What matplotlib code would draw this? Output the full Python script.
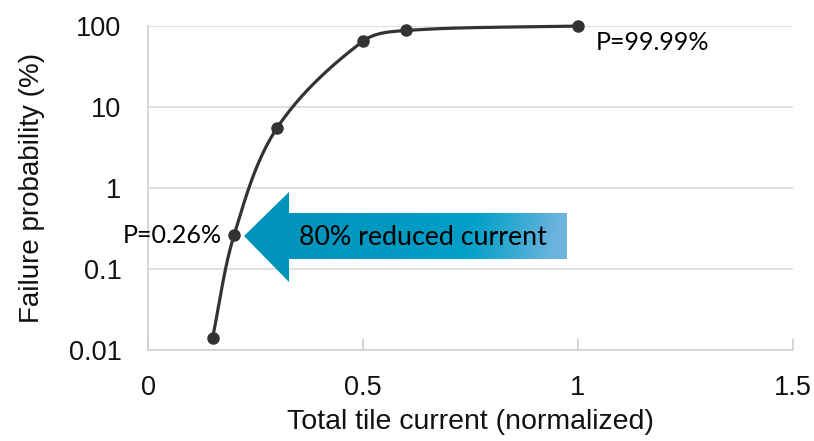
import matplotlib.pyplot as plt
import numpy as np
from matplotlib.patches import Polygon
from matplotlib.colors import LinearSegmentedColormap

# data
current = [0.15, 0.2, 0.3, 0.5, 0.6, 1.0]
fail_prob = [0.014, 0.26, 5.5, 65, 88, 99.99]
xticks = [0, 0.5, 1, 1.5]
yticks = [0.01, 0.1, 1, 10, 100]
ytick_labels = ['0.01', '0.1', '1', '10', '100']

tick_font = ['Liberation Sans', 'DejaVu Sans']
note_font = ['Lato', 'DejaVu Sans']


def smooth(x, y, n=40):
    # Excel-style smoothed line: bezier through the points in log-y pixel space
    sx, sy = 430.0, 81.0
    px = np.array(x, float) * sx
    py = np.log10(np.array(y, float)) * sy
    P = np.column_stack([px, py])
    k = len(P)
    D = np.zeros_like(P)
    for i in range(k):
        d = P[min(i + 1, k - 1)] - P[max(i - 1, 0)]
        D[i] = d / np.hypot(*d)
    out = []
    t = np.linspace(0, 1, n)[:, None]
    for i in range(k - 1):
        p1, p2 = P[i], P[i + 1]
        L = np.hypot(*(p2 - p1)) / 3
        a, b = D[i] * L, D[i + 1] * L
        dy = abs(p2[1] - p1[1])
        if abs(a[1]) > dy:
            a = a * dy / abs(a[1])
        if abs(b[1]) > dy:
            b = b * dy / abs(b[1])
        c1, c2 = p1 + a, p2 - b
        seg = (1 - t) ** 3 * p1 + 3 * (1 - t) ** 2 * t * c1 + 3 * (1 - t) * t ** 2 * c2 + t ** 3 * p2
        out.append(seg)
    out = np.vstack(out)
    return out[:, 0] / sx, 10 ** (out[:, 1] / sy)


fig = plt.figure(figsize=(8.14, 4.41), dpi=100)
ax = fig.add_axes([148 / 814, 1 - 350 / 441, 645 / 814, 324 / 441])

ax.set_yscale('log')
ax.set_xlim(0, 1.5)
ax.set_ylim(0.01, 100)

sx_, sy_ = smooth(current, fail_prob)
ax.plot(sx_, sy_, color='#333333', lw=2.3, zorder=3, solid_capstyle='round',
        clip_on=False)
ax.plot(current, fail_prob, 'o', color='#333333', ms=8, zorder=4, clip_on=False)

ax.set_xticks(xticks)
ax.set_xticklabels([f'{t:g}' for t in xticks])
ax.set_yticks(yticks)
ax.set_yticklabels(ytick_labels)
ax.minorticks_off()
ax.tick_params(axis='y', length=0, pad=19, labelsize=19.5, colors='#111111')
ax.tick_params(axis='x', direction='in', length=8, width=1.2, color='#d0d0d0',
               pad=18, labelsize=19.5, labelcolor='#111111')
for lab in ax.get_xticklabels() + ax.get_yticklabels():
    lab.set_family(tick_font)

ax.grid(axis='y', color='#d9d9d9', lw=1.2)
ax.set_axisbelow(True)
for s in ['top', 'right']:
    ax.spines[s].set_visible(False)
for s in ['left', 'bottom']:
    ax.spines[s].set_color('#d0d0d0')
    ax.spines[s].set_linewidth(1.2)

ax.set_xlabel('Total tile current (normalized)', fontsize=20.5, family=tick_font,
              color='#111111', labelpad=6)
ax.set_ylabel('Failure probability (%)', fontsize=20, family=tick_font,
              color='#111111', labelpad=17)


# gradient arrow, placed in axes fraction from pixel positions
def fx(px):
    return (px - 148) / 645


def fy(py):
    return (350 - py) / 324


arrow_pts = [(fx(244), fy(236)), (fx(289), fy(192)), (fx(289), fy(213)),
             (fx(567), fy(213)), (fx(567), fy(259)), (fx(289), fy(259)),
             (fx(289), fy(282))]
poly = Polygon(arrow_pts, closed=True, transform=ax.transAxes,
               facecolor='none', edgecolor='none')
ax.add_patch(poly)
cmap = LinearSegmentedColormap.from_list('arr', ['#0094bd', '#00a0c8', '#6cb4de'])
gx, gy = np.meshgrid(np.linspace(0, 1, 256), np.linspace(0, 1, 64))
grad = np.clip(gx ** 2.2 + 0.15 * gy * gx, 0, 1)
im = ax.imshow(grad, cmap=cmap, aspect='auto', transform=ax.transAxes, origin='upper',
               extent=[fx(244), fx(567), fy(282), fy(192)], zorder=2)
im.set_clip_path(poly)

ax.text(fx(423), fy(238), '80% reduced current', transform=ax.transAxes,
        ha='center', va='center', fontsize=19.3, family=note_font, color='black', zorder=5)
ax.text(fx(222), fy(236), 'P=0.26%', transform=ax.transAxes,
        ha='right', va='center', fontsize=18, family=note_font, color='black', zorder=5)
ax.text(fx(596), fy(43), 'P=99.99%', transform=ax.transAxes,
        ha='left', va='center', fontsize=18, family=note_font, color='black', zorder=5)

fig.savefig('out.png', dpi=100)
